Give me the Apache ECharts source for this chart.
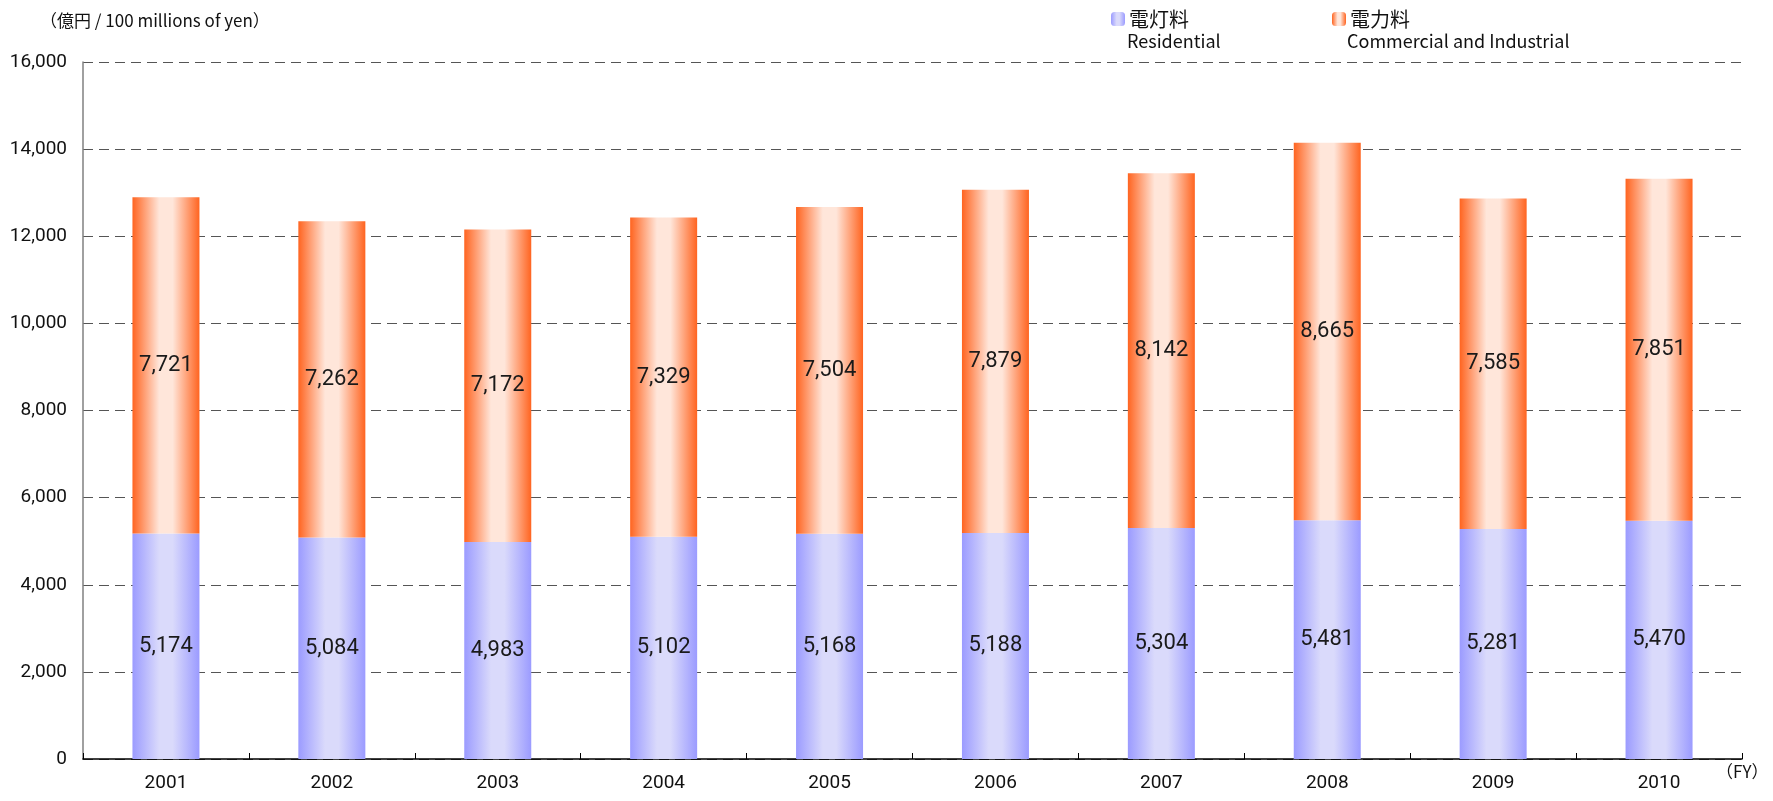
<!DOCTYPE html>
<html>
<head>
<meta charset="utf-8">
<script src="https://cdn.jsdelivr.net/npm/echarts@6/dist/echarts.min.js"></script>
<style>
html,body{margin:0;padding:0;background:#fff;}
#main{width:1773px;height:801px;}
</style>
</head>
<body>
<div id="main"></div>
<script>
const categories = ['2001','2002','2003','2004','2005','2006','2007','2008','2009','2010'];
const residential = [5174,5084,4983,5102,5168,5188,5304,5481,5281,5470];
const commercial = [7721,7262,7172,7329,7504,7879,8142,8665,7585,7851];
const seriesNamesJa = ['電灯料','電力料'];
const seriesNamesEn = ['Residential','Commercial and Industrial'];
const unitLabel = '（億円 / 100 millions of yen）';
const xAxisName = '（FY）';

const NARROW = 'Roboto,"Liberation Sans Narrow",sans-serif';
const CJK = '"Noto Sans CJK JP","Noto Sans",sans-serif';

function grad(edge, mid) {
  return new echarts.graphic.LinearGradient(0,0,1,0,[
    {offset:0,color:edge},
    {offset:0.4,color:mid},
    {offset:0.6,color:mid},
    {offset:1,color:edge}
  ]);
}
const blue = grad('#9b9bff','#dadafb');
const orange = grad('#ff6420','#ffe6da');

const chart = echarts.init(document.getElementById('main'));
const labelStyle = {show:true, position:'inside', color:'#1a1a1a', fontSize:22, fontFamily:NARROW,
  formatter: p => p.value.toLocaleString('en-US')};

chart.setOption({
  animation:false,
  backgroundColor:'#ffffff',
  grid:{left:83, right:31, top:62, bottom:42, containLabel:false, outerBoundsMode:'none'},
  legend:[
    {data:[seriesNamesJa[0]], left:1106, top:4, itemWidth:14, itemHeight:14, itemGap:5,
     textStyle:{fontFamily:CJK, fontSize:20, color:'#111', padding:[0,0,0,-1]}},
    {data:[seriesNamesJa[1]], left:1327, top:4, itemWidth:14, itemHeight:14, itemGap:5,
     textStyle:{fontFamily:CJK, fontSize:20, color:'#111', padding:[0,0,0,-1]}}
  ],
  graphic:[
    {type:'text', left:40, top:12, style:{text:unitLabel, font:'17px '+CJK, fill:'#111'}},
    {type:'text', left:1127, top:32, style:{text:seriesNamesEn[0], font:'18px '+CJK, fill:'#111'}},
    {type:'text', left:1347, top:32, style:{text:seriesNamesEn[1], font:'18px '+CJK, fill:'#111'}}
  ],
  xAxis:{
    type:'category', data:categories, boundaryGap:true,
    name:xAxisName, nameLocation:'end', nameGap:-26,
    nameTextStyle:{fontFamily:CJK, fontSize:17, color:'#111', verticalAlign:'top', padding:[4,0,0,0]},
    axisLine:{lineStyle:{color:'#000', width:1.5}},
    axisTick:{show:true, inside:true, length:6, lineStyle:{color:'#000'}},
    axisLabel:{fontFamily:NARROW, fontSize:19, color:'#111', margin:15}
  },
  yAxis:{
    type:'value', min:0, max:16000, interval:2000,
    axisLine:{show:true, lineStyle:{color:'#808080', width:1.5}},
    axisTick:{show:false},
    axisLabel:{fontFamily:NARROW, fontSize:19, color:'#111', margin:16,
      formatter: v => v.toLocaleString('en-US')},
    splitLine:{show:true, lineStyle:{color:'#555', type:[10,6], width:1}}
  },
  series:[
    {name:seriesNamesJa[0], type:'bar', stack:'total', data:residential, barWidth:67,
     itemStyle:{color:blue}, label:labelStyle},
    {name:seriesNamesJa[1], type:'bar', stack:'total', data:commercial, barWidth:67,
     itemStyle:{color:orange}, label:labelStyle}
  ]
});
</script>
</body>
</html>
